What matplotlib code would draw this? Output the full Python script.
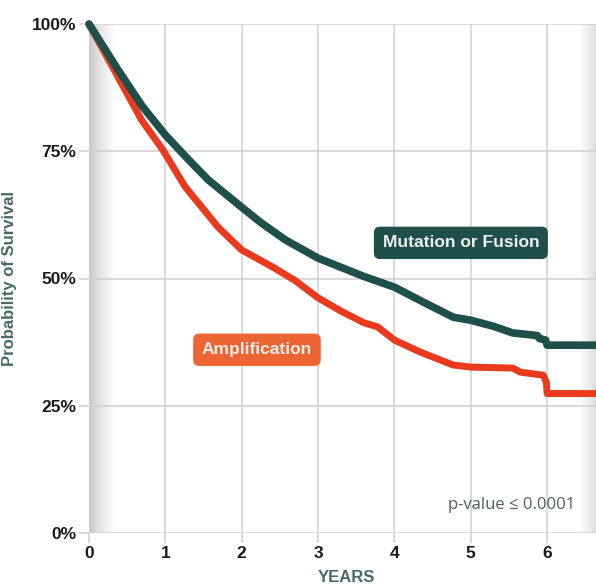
import numpy as np
import matplotlib
matplotlib.use('agg')
import matplotlib.pyplot as plt

plt.rcParams['font.family'] = ['Liberation Sans', 'DejaVu Sans']

# survival curves (years, percent)
mut_years = [0, 0.38, 0.7, 1.0, 1.3, 1.56, 2.0, 2.25, 2.57, 3.0, 3.3, 3.6, 4.0,
             4.4, 4.77, 5.0, 5.3, 5.55, 5.87, 5.9, 5.98, 6.0, 6.64]
mut_surv = [100, 91, 83.8, 78.2, 73.4, 69.4, 64, 61, 57.6, 54, 52.2, 50.4, 48.3,
            45.2, 42.4, 41.8, 40.6, 39.3, 38.8, 38.2, 37.9, 36.9, 36.9]

amp_years = [0, 0.38, 0.69, 0.97, 1.26, 1.69, 2.0, 2.4, 2.7, 3.0, 3.3, 3.6, 3.78,
             4.0, 4.33, 4.77, 5.0, 5.55, 5.65, 5.95, 5.99, 6.0, 6.64]
amp_surv = [100, 89.6, 81.1, 75.2, 68, 60.1, 55.6, 52.3, 49.6, 46.2, 43.6, 41.3, 40.5,
            37.9, 35.6, 33, 32.6, 32.4, 31.6, 31, 29.6, 27.4, 27.4]

x_ticks = [0, 1, 2, 3, 4, 5, 6]
y_ticks = [0, 25, 50, 75, 100]
y_labels = ['0%', '25%', '50%', '75%', '100%']

teal = '#1f4f4b'
red = '#ea3a1e'
orange = '#ee6534'
grid_c = '#cfcfcf'
axis_lab = '#456a66'

fig = plt.figure(figsize=(5.96, 5.88), dpi=100)
ax = fig.add_axes([89 / 596, 55 / 588, 1 - 89 / 596, 509 / 588])
ax.set_xlim(0, 6.64)
ax.set_ylim(0, 100)


def shade(x0, x1, dark, flip=False):
    # grey-to-white horizontal fade
    t = np.linspace(0, 1, 256) ** 0.7
    if flip:
        t = t[::-1]
    v = dark + (1 - dark) * t
    img = np.stack([v, v, v], axis=-1).reshape(1, -1, 3)
    ax.imshow(img, extent=[x0, x1, 0, 100], aspect='auto', zorder=0)


shade(0, 0.33, 0.76)
shade(6.4, 6.64, 0.84, flip=True)

for s in ax.spines.values():
    s.set_visible(False)
ax.set_xticks(x_ticks)
ax.set_yticks(y_ticks)
ax.set_yticklabels(y_labels)
ax.grid(True, color=grid_c, lw=1.1, zorder=1)
ax.tick_params(length=7, color=grid_c, width=1.1, pad=2, labelsize=12.5, labelcolor='#1a1a1a')
for lab in ax.get_xticklabels() + ax.get_yticklabels():
    lab.set_fontweight('bold')

ax.plot(amp_years, amp_surv, color=red, lw=5, solid_capstyle='round',
        solid_joinstyle='round', zorder=3, clip_on=False)
ax.plot(mut_years, mut_surv, color=teal, lw=5.5, solid_capstyle='round',
        solid_joinstyle='round', zorder=4, clip_on=False)

ax.text(4.87, 57, 'Mutation or Fusion', color='#f0f0f0', fontsize=12.5, fontweight='bold',
        ha='center', va='center', zorder=5,
        bbox=dict(boxstyle='round,pad=0.5,rounding_size=0.35', fc=teal, ec='none'))
ax.text(2.2, 36, 'Amplification', color='#f4ece8', fontsize=12.5, fontweight='bold',
        ha='center', va='center', zorder=5,
        bbox=dict(boxstyle='round,pad=0.5,rounding_size=0.35', fc=orange, ec='none'))
ax.text(5.53, 5.5, 'p-value \u2264 0.0001', color='#4d5f5c', fontsize=12, ha='center',
        va='center', zorder=5, family=['Open Sans', 'DejaVu Sans'])

ax.set_ylabel('Probability of Survival', color=axis_lab, fontweight='bold', fontsize=12)
ax.yaxis.set_label_coords(-(89 - 17) / (596 - 89), 0.5)
ax.set_xlabel('YEARS', color=axis_lab, fontweight='bold', fontsize=12)
ax.xaxis.set_label_coords((346 - 89) / (596 - 89), -(578 - 533) / 509)
ax.xaxis.label.set_va('center')

fig.savefig('out.png', dpi=100)
